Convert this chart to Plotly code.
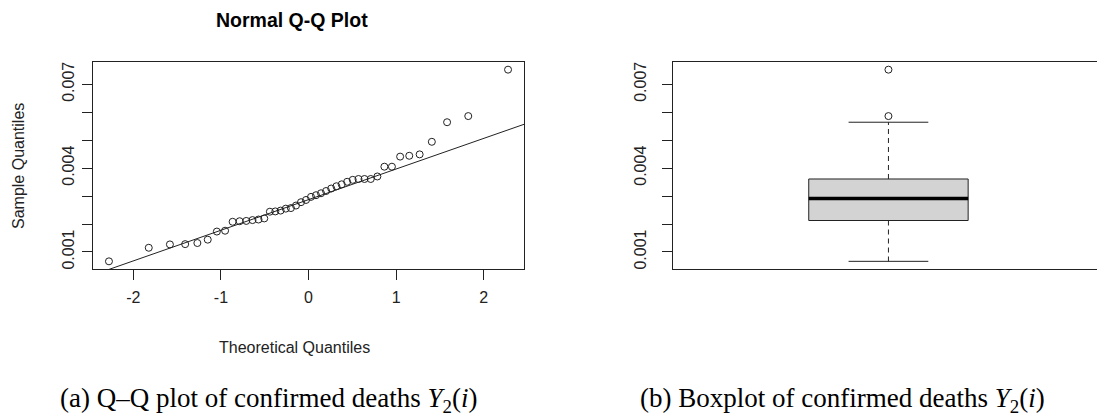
import math
from statistics import NormalDist

import numpy as np
import plotly.graph_objects as go

# Sorted confirmed-death ratios Y2(i), one value per region (n = 44)
deaths = [0.000665, 0.00115, 0.00127, 0.00128, 0.00132, 0.00144, 0.00173, 0.00176,
          0.00208, 0.00210, 0.00211, 0.00214, 0.00216, 0.00220, 0.00244, 0.00245,
          0.00248, 0.00255, 0.00257, 0.00266, 0.00278, 0.00286, 0.00297, 0.00303,
          0.00310, 0.00318, 0.00327, 0.00335, 0.00342, 0.00351, 0.00358, 0.00361,
          0.00361, 0.00361, 0.00370, 0.00405, 0.00405, 0.00441, 0.00444, 0.00449,
          0.00494, 0.00564, 0.00586, 0.00752]

# labelled y ticks, plus an unlabelled tick every 0.001
y_ticks = [0.001, 0.004, 0.007]
y_labels = ["0.001", "0.004", "0.007"]
y_minor = [0.001, 0.002, 0.003, 0.004, 0.005, 0.006, 0.007]
x_ticks = [-2, -1, 0, 1, 2]
x_labels = ["-2", "-1", "0", "1", "2"]

title_text = "Normal Q-Q Plot"
x_title = "Theoretical Quantiles"
y_title = "Sample Quantiles"
caption_a = "(a) Q\u2013Q plot of confirmed deaths <i>Y</i><sub>2</sub>(<i>i</i>)"
caption_b = "(b) Boxplot of confirmed deaths <i>Y</i><sub>2</sub>(<i>i</i>)"

W, H = 1097, 417
INK = "#222222"
SANS = "Liberation Sans, Arial, sans-serif"
SERIF = "Liberation Serif, Times New Roman, serif"

# ---- Q-Q quantities -------------------------------------------------------
y = np.sort(np.array(deaths))
n = len(y)
nd = NormalDist()
theo = np.array([nd.inv_cdf((i - 0.5) / n) for i in range(1, n + 1)])

# reference line through the first and third quartiles
q1, q3 = np.quantile(y, [0.25, 0.75])
z1, z3 = nd.inv_cdf(0.25), nd.inv_cdf(0.75)
slope = (q3 - q1) / (z3 - z1)
intercept = q1 - slope * z1
line_x = np.array([-5.0, 5.0])
line_y = intercept + slope * line_x


def padded(lo, hi, frac=0.04):
    span = hi - lo
    return [lo - frac * span, hi + frac * span]


x_range = padded(theo.min(), theo.max())
y_range = padded(y.min(), y.max())

# ---- Tukey five-number summary for the box plot ---------------------------
def fivenum(v):
    v = np.sort(v)
    m = len(v)
    n4 = math.floor((m + 3) / 2) / 2
    d = [1, n4, (m + 1) / 2, m + 1 - n4, m]
    return [0.5 * (v[math.floor(k - 1)] + v[math.ceil(k - 1)]) for k in d]


_, lo_hinge, med, up_hinge, _ = fivenum(y)
iqr = up_hinge - lo_hinge
inside = y[(y >= lo_hinge - 1.5 * iqr) & (y <= up_hinge + 1.5 * iqr)]
lo_whisk, up_whisk = inside.min(), inside.max()
outliers = y[(y < lo_whisk) | (y > up_whisk)]

bx0, bx1 = 0.8, 1.2
cx0, cx1 = 0.9, 1.1

fig = go.Figure()

# Left panel: Q-Q plot
fig.add_trace(go.Scatter(
    x=theo, y=y, mode="markers",
    marker=dict(symbol="circle-open", size=7, color=INK, line=dict(width=1, color=INK)),
    xaxis="x", yaxis="y", showlegend=False, hoverinfo="skip"))
fig.add_trace(go.Scatter(
    x=line_x, y=line_y, mode="lines", line=dict(color=INK, width=1),
    xaxis="x", yaxis="y", showlegend=False, hoverinfo="skip"))

# Right panel: box plot
fig.add_trace(go.Scatter(
    x=[bx0, bx1, bx1, bx0, bx0], y=[lo_hinge, lo_hinge, up_hinge, up_hinge, lo_hinge],
    mode="lines", fill="toself", fillcolor="#d3d3d3", line=dict(color=INK, width=1),
    xaxis="x2", yaxis="y2", showlegend=False, hoverinfo="skip"))
fig.add_trace(go.Scatter(
    x=[bx0, bx1], y=[med, med], mode="lines", line=dict(color="black", width=3.5),
    xaxis="x2", yaxis="y2", showlegend=False, hoverinfo="skip"))
for a, b in [(up_hinge, up_whisk), (lo_hinge, lo_whisk)]:
    fig.add_trace(go.Scatter(
        x=[1, 1], y=[a, b], mode="lines", line=dict(color=INK, width=1, dash="5px,4px"),
        xaxis="x2", yaxis="y2", showlegend=False, hoverinfo="skip"))
    fig.add_trace(go.Scatter(
        x=[cx0, cx1], y=[b, b], mode="lines", line=dict(color=INK, width=1),
        xaxis="x2", yaxis="y2", showlegend=False, hoverinfo="skip"))
fig.add_trace(go.Scatter(
    x=[1] * len(outliers), y=outliers, mode="markers",
    marker=dict(symbol="circle-open", size=7, color=INK, line=dict(width=1, color=INK)),
    xaxis="x2", yaxis="y2", showlegend=False, hoverinfo="skip"))

ydom = [(H - 269) / H, (H - 62) / H]
tick_font = dict(family=SANS, size=16, color=INK)
minor_y = dict(tickmode="array", tickvals=y_minor, ticks="outside", ticklen=10,
               tickcolor=INK, tickwidth=1, showgrid=False)

fig.update_layout(
    width=W, height=H,
    margin=dict(l=0, r=0, t=0, b=0),
    paper_bgcolor="white", plot_bgcolor="white",
    xaxis=dict(domain=[93 / W, 524 / W], range=x_range, tickvals=x_ticks, ticktext=x_labels,
               ticks="outside", ticklen=10, tickcolor=INK, tickwidth=1,
               showline=True, linecolor=INK, linewidth=1, mirror=True,
               showgrid=False, zeroline=False, tickfont=tick_font, ticklabelstandoff=4),
    yaxis=dict(domain=ydom, range=y_range, tickvals=y_ticks, ticktext=y_labels,
               ticks="outside", ticklen=10, tickcolor=INK, tickwidth=1, tickangle=-90,
               minor=minor_y,
               showline=True, linecolor=INK, linewidth=1, mirror=True,
               showgrid=False, zeroline=False, tickfont=tick_font, ticklabelstandoff=2),
    xaxis2=dict(domain=[673 / W, 1.0], range=[0.4594, 1.5233], anchor="y2",
                showticklabels=False, ticks="",
                showline=True, linecolor=INK, linewidth=1, mirror=True,
                showgrid=False, zeroline=False),
    yaxis2=dict(domain=ydom, range=y_range, anchor="x2", tickvals=y_ticks, ticktext=y_labels,
                ticks="outside", ticklen=10, tickcolor=INK, tickwidth=1, tickangle=-90,
                minor=minor_y,
                showline=True, linecolor=INK, linewidth=1, mirror=False,
                showgrid=False, zeroline=False, tickfont=tick_font, ticklabelstandoff=10),
)

fig.add_annotation(text=f"<b>{title_text}</b>", xref="paper", yref="paper",
                   x=292 / W, y=1 - 20 / H, xanchor="center", yanchor="middle",
                   showarrow=False, font=dict(family=SANS, size=19.5, color="black"))
fig.add_annotation(text=x_title, xref="paper", yref="paper",
                   x=294 / W, y=1 - 347 / H, xanchor="center", yanchor="middle",
                   showarrow=False, font=dict(family=SANS, size=16, color=INK))
fig.add_annotation(text=y_title, xref="paper", yref="paper",
                   x=18 / W, y=1 - 166 / H, xanchor="center", yanchor="middle", textangle=-90,
                   showarrow=False, font=dict(family=SANS, size=16, color=INK))
fig.add_annotation(text=caption_a, xref="paper", yref="paper",
                   x=268 / W, y=1 - 400 / H, xanchor="center", yanchor="middle",
                   showarrow=False, font=dict(family=SERIF, size=27, color="black"))
fig.add_annotation(text=caption_b, xref="paper", yref="paper",
                   x=842 / W, y=1 - 400 / H, xanchor="center", yanchor="middle",
                   showarrow=False, font=dict(family=SERIF, size=27, color="black"))

fig.write_html("out.html")
